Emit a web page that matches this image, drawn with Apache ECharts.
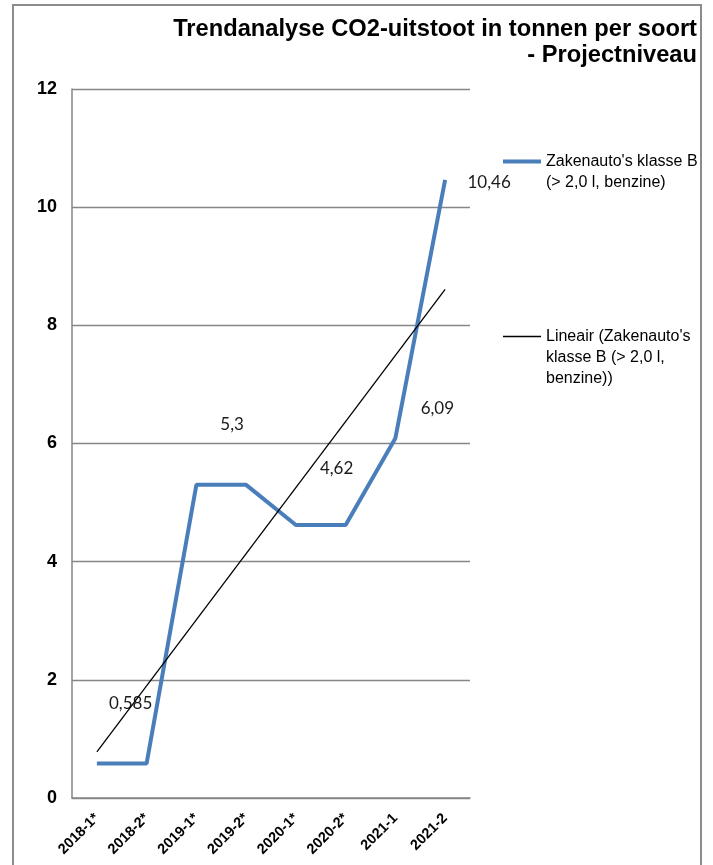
<!DOCTYPE html>
<html>
<head>
<meta charset="utf-8">
<script src="https://cdn.jsdelivr.net/npm/echarts@6/dist/echarts.min.js"></script>
<style>
html,body{margin:0;padding:0;background:#fff;}
#chart{width:713px;height:865px;}
</style>
</head>
<body>
<div id="chart"></div>
<script>
// ---- data ----
const categories = ['2018-1*', '2018-2*', '2019-1*', '2019-2*', '2020-1*', '2020-2*', '2021-1', '2021-2'];
const values = [0.585, 0.585, 5.3, 5.3, 4.62, 4.62, 6.09, 10.46];
const labeledPoints = [1, 3, 5, 6, 7];            // points that carry a data label
const trendValues = [0.78, null, null, null, null, null, null, 8.61]; // linear trend end points
const yTicks = [0, 2, 4, 6, 8, 10, 12];
const seriesName = "Zakenauto's klasse B\n(> 2,0 l, benzine)";
const trendName = "Lineair (Zakenauto's\nklasse B (> 2,0 l,\nbenzine))";
const titleLines = ['Trendanalyse CO2-uitstoot in tonnen per soort', '- Projectniveau'];

// ---- styles / layout ----
const labelOffsets = { 1: [-16, -60], 3: [-14, -60], 5: [-9, -57], 6: [42, -30], 7: [44, 3] };
const FONT = '"Liberation Sans", Arial, sans-serif';

const mainData = values.map((v, i) => {
  if (labeledPoints.indexOf(i) < 0) return v;
  return {
    value: v,
    symbol: 'circle',
    symbolSize: 0,
    label: {
      show: true,
      position: 'inside',
      offset: labelOffsets[i],
      formatter: p => String(p.value).replace('.', ','),
      fontFamily: 'Lato, "Open Sans", sans-serif',
      fontSize: 17,
      color: '#1a1a1a'
    }
  };
});

// pad legend text so that its first line sits level with the legend line
function legendText(name) {
  const n = name.split('\n').length;
  return '\n'.repeat(n - 1) + name;
}

const chart = echarts.init(document.getElementById('chart'), null, { renderer: 'canvas' });
chart.setOption({
  animation: false,
  backgroundColor: '#fff',
  title: titleLines.map((t, i) => ({
    text: t,
    right: 16,
    top: 16 + i * 26,
    padding: 0,
    textStyle: { fontFamily: FONT, fontSize: 23.7, fontWeight: 'bold', color: '#000', lineHeight: 26 }
  })),
  graphic: [{
    type: 'rect',
    shape: { x: 13, y: 5, width: 688, height: 900 },
    style: { fill: 'none', stroke: '#8c8c8c', lineWidth: 2 },
    silent: true,
    z: -1
  }],
  legend: {
    orient: 'vertical',
    left: 501,
    top: 130,
    padding: 0,
    itemWidth: 38,
    itemHeight: 14,
    itemGap: 91,
    selectedMode: false,
    itemStyle: { opacity: 0 },
    formatter: legendText,
    textStyle: { fontFamily: FONT, fontSize: 16, color: '#000', lineHeight: 21 },
    data: [
      { name: seriesName, lineStyle: { width: 4, color: '#4A7EBB' } },
      { name: trendName, lineStyle: { width: 1.3, color: '#000' } }
    ]
  },
  grid: { left: 72, right: 243, top: 89, bottom: 67, containLabel: false },
  xAxis: {
    type: 'category',
    data: categories,
    boundaryGap: true,
    axisLine: { lineStyle: { color: '#868686', width: 1.5 } },
    axisTick: { show: false },
    axisLabel: {
      rotate: 45,
      interval: 0,
      margin: 18,
      fontFamily: FONT,
      fontSize: 14.5,
      fontWeight: 'bold',
      color: '#000'
    }
  },
  yAxis: {
    type: 'value',
    min: yTicks[0],
    max: yTicks[yTicks.length - 1],
    interval: 2,
    axisLine: { show: true, lineStyle: { color: '#868686', width: 1.5 } },
    axisTick: { show: false },
    splitLine: { lineStyle: { color: '#868686', width: 1.3 } },
    axisLabel: {
      margin: 15,
      fontFamily: FONT,
      fontSize: 18,
      fontWeight: 'bold',
      color: '#000'
    }
  },
  series: [
    {
      name: seriesName,
      type: 'line',
      data: mainData,
      symbol: 'none',
      color: '#4A7EBB',
      lineStyle: { color: '#4A7EBB', width: 4 },
      z: 2
    },
    {
      name: trendName,
      type: 'line',
      data: trendValues,
      connectNulls: true,
      symbol: 'none',
      color: '#000',
      lineStyle: { color: '#000', width: 1.3 },
      z: 3
    }
  ]
});
</script>
</body>
</html>
